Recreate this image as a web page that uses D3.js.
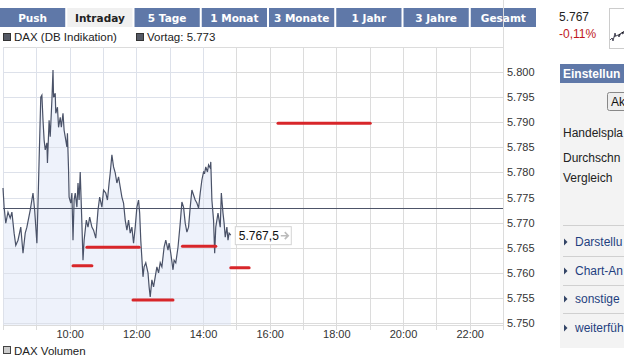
<!DOCTYPE html>
<html><head><meta charset="utf-8">
<script src="https://cdnjs.cloudflare.com/ajax/libs/d3/7.8.5/d3.min.js"></script>
<style>
html,body{margin:0;padding:0;background:#fff;}
svg{display:block;}
</style></head>
<body>
<svg id="c" width="624" height="358"></svg>
<script>
// ---- data ----
const tabs = ["Push","Intraday","5 Tage","1 Monat","3 Monate","1 Jahr","3 Jahre","Gesamt"];
const activeTab = "Intraday";
const times = ["08:00","08:02","08:05","08:09","08:13","08:16","08:20","08:23","08:27","08:32","08:36","08:40","08:43","08:49","08:54","08:57",
"09:01","09:03","09:05","09:08","09:10","09:12","09:14","09:16","09:19","09:20","09:23","09:25","09:28","09:30","09:31","09:34","09:35","09:38","09:40","09:43","09:45","09:48","09:50","09:52","09:55","09:56","09:58","09:59",
"10:02","10:04","10:06","10:08","10:10","10:13","10:15","10:17","10:19","10:22","10:24","10:26","10:30","10:33","10:36","10:40","10:43","10:47","10:51","10:54","10:58",
"11:01","11:05","11:08","11:11","11:13","11:16","11:19","11:22","11:25","11:28","11:31","11:34","11:37","11:40","11:43","11:46","11:49","11:52","11:55","11:58",
"12:01","12:04","12:06","12:08","12:12","12:14","12:17","12:21","12:23","12:25","12:28","12:31","12:34","12:37","12:40","12:43","12:46","12:50","12:53","12:57","12:59",
"13:02","13:06","13:08","13:11","13:15","13:19","13:22","13:25","13:28","13:31","13:34","13:37","13:40","13:43","13:46","13:49","13:52","13:55","13:58",
"14:01","14:03","14:05","14:08","14:10","14:13","14:14","14:16","14:19","14:21","14:23","14:27","14:31","14:33","14:36","14:38","14:40","14:43","14:45","14:47","14:50"];
const prices = [5776.9,5773.1,5769.9,5772.1,5770.9,5772.1,5767.9,5765.5,5766.5,5769.1,5763.9,5767.9,5769.1,5772.5,5775.9,5772.5,
5765.9,5773.9,5782.5,5795.0,5795.4,5790.4,5786.5,5784.5,5785.9,5781.9,5790.4,5787.1,5794.4,5800.4,5795.0,5795.8,5791.8,5793.0,5789.0,5791.0,5789.0,5791.8,5788.4,5787.1,5785.1,5787.8,5780.5,5775.1,
5773.9,5775.9,5766.5,5774.5,5775.9,5773.1,5777.9,5774.5,5780.1,5769.9,5762.5,5766.5,5770.5,5769.1,5771.1,5769.1,5768.5,5766.9,5772.5,5775.1,5773.1,
5776.5,5775.9,5774.5,5777.9,5779.9,5783.5,5781.1,5779.9,5777.9,5779.1,5777.1,5775.1,5773.9,5770.5,5768.5,5770.5,5767.9,5769.1,5765.9,5769.1,
5773.1,5774.5,5771.9,5766.5,5759.2,5761.2,5762.0,5760.0,5757.2,5755.2,5758.6,5757.2,5759.2,5761.2,5760.0,5762.0,5761.2,5765.1,5766.5,5764.5,5765.9,
5763.9,5760.6,5762.5,5762.0,5765.1,5769.9,5774.1,5773.1,5769.9,5768.1,5769.1,5773.1,5776.5,5775.5,5774.5,5773.9,5772.9,5775.9,5778.5,
5780.1,5779.9,5781.1,5780.1,5781.5,5780.9,5782.1,5774.5,5770.5,5763.9,5769.1,5771.9,5769.1,5775.9,5771.9,5769.9,5767.1,5769.1,5766.5,5767.9,5767.5];
const previousClose = 5773;
const lastPrice = 5767.5;
const quotePrice = 5767;
const changePct = -0.11;
// red marker segments: [from, to, level]
const markerFrom = ["10:06","10:31","11:54","13:23","14:50","16:15"];
const markerTo   = ["10:40","12:05","13:06","14:23","15:23","19:01"];
const markerLevel= [5761.4,5765.1,5754.6,5765.3,5761.0,5789.8];
const yTicks = [5750,5755,5760,5765,5770,5775,5780,5785,5790,5795,5800];
const xTickLabels = ["10:00","12:00","14:00","16:00","18:00","20:00","22:00"];
// side panel texts (as visible, cut by the window edge)
const sideHeader = "Einstellun";
const sideButton = "Ak";
const sideLabels = ["Handelspla","Durchschn","Vergleich"];
const sideLinks = ["Darstellu","Chart-An","sonstige","weiterfüh"];

// ---- setup ----
const de = d3.formatLocale({decimal:",",thousands:".",grouping:[3],currency:["","€"],minus:"-"});
const fmt0 = de.format(",.0f"), fmt1 = de.format(",.1f");
const parse = d3.timeParse("%H:%M");
const svg = d3.select("#c");
const L=3, R=503, T=47, B=325;
const x = d3.scaleTime().domain([parse("08:00"), parse("23:00")]).range([L,R]);
const y = d3.scaleLinear().domain([5749.6,5805]).range([B,T]);
const data = times.map((t,i)=>({t:parse(t), v:prices[i]}));

// tabs
const tabScale = d3.scaleBand().domain(tabs).range([0,536]).paddingInner(0.03);
const tg = svg.append("g");
tg.selectAll("rect").data(tabs).join("rect")
  .attr("x",d=>tabScale(d)).attr("y",8).attr("width",tabScale.bandwidth()).attr("height",19)
  .attr("fill",d=>d===activeTab?"#f0f0f0":"#5f78a8");
tg.selectAll("text").data(tabs).join("text")
  .attr("x",d=>tabScale(d)+tabScale.bandwidth()/2).attr("y",22).attr("text-anchor","middle")
  .attr("font-family","DejaVu Sans").attr("font-weight","bold").attr("font-size",10.5)
  .attr("fill",d=>d===activeTab?"#222":"#fff").text(d=>d);

// legend
const leg = svg.append("g").attr("font-family","Liberation Sans, Arial").attr("font-size",11.5).attr("fill","#222");
leg.append("rect").attr("x",3.5).attr("y",33.5).attr("width",7).attr("height",7).attr("fill","#555a66").attr("stroke","#333");
leg.append("text").attr("x",14).attr("y",41).text("DAX (DB Indikation)");
leg.append("rect").attr("x",136.5).attr("y",33.5).attr("width",7).attr("height",7).attr("fill","#555a66").attr("stroke","#333");
leg.append("text").attr("x",147).attr("y",41).text("Vortag: " + fmt0(previousClose));
leg.append("rect").attr("x",3.5).attr("y",346.5).attr("width",7).attr("height",7).attr("fill","#ccc").attr("stroke","#444");
leg.append("text").attr("x",14).attr("y",355).text("DAX Volumen");

// grid
const grid = svg.append("g").attr("stroke","#dcdcdc").attr("shape-rendering","crispEdges");
const hours = d3.timeHour.range(parse("08:00"), parse("23:00"), 1);
grid.selectAll("line.v").data(hours).join("line").attr("class","v")
  .attr("x1",d=>Math.round(x(d))+0.5).attr("x2",d=>Math.round(x(d))+0.5).attr("y1",T).attr("y2",B+5);
grid.selectAll("line.h").data(yTicks.concat([5805])).join("line").attr("class","h")
  .attr("x1",L).attr("x2",R+1).attr("y1",d=>Math.round(y(d))+0.5).attr("y2",d=>Math.round(y(d))+0.5);
grid.append("line").attr("x1",L).attr("x2",R+1).attr("y1",B+0.5).attr("y2",B+0.5);
grid.append("line").attr("x1",R+0.5).attr("x2",R+0.5).attr("y1",0).attr("y2",B+5);

// area + line
svg.append("path").datum(data).attr("fill","#eef2fb")
  .attr("d",d3.area().x(d=>x(d.t)).y0(B).y1(d=>y(d.v)));
svg.append("g").attr("stroke","#dde1ea").attr("shape-rendering","crispEdges")
  .selectAll("line").data(yTicks).join("line")
  .attr("x1",L).attr("x2",x(data[data.length-1].t)).attr("y1",d=>Math.round(y(d))+0.5).attr("y2",d=>Math.round(y(d))+0.5);
svg.append("g").attr("stroke","#dde1ea").attr("shape-rendering","crispEdges")
  .selectAll("line").data(hours.filter(h=>h<=data[data.length-1].t)).join("line")
  .attr("x1",d=>Math.round(x(d))+0.5).attr("x2",d=>Math.round(x(d))+0.5).attr("y1",T).attr("y2",B);
svg.append("line").attr("x1",L).attr("x2",R).attr("y1",Math.round(y(previousClose))+0.5).attr("y2",Math.round(y(previousClose))+0.5)
  .attr("stroke","#4d5468").attr("stroke-width",1);
svg.append("path").datum(data).attr("fill","none").attr("stroke","#4a5268").attr("stroke-width",1.2)
  .attr("d",d3.line().x(d=>x(d.t)).y(d=>y(d.v)));

// y axis labels
const ya = svg.append("g").attr("transform",`translate(${R},0)`)
  .call(d3.axisRight(y).tickValues(yTicks).tickFormat(fmt0).tickSize(0).tickPadding(4));
ya.select(".domain").remove();
ya.selectAll("text").attr("font-family","Liberation Sans, Arial").attr("font-size",11).attr("fill","#333");

// x axis labels
const xa = svg.append("g").attr("transform",`translate(0,${B})`)
  .call(d3.axisBottom(x).tickValues(xTickLabels.map(parse)).tickFormat(d3.timeFormat("%H:%M")).tickSize(0).tickPadding(5));
xa.select(".domain").remove();
xa.selectAll("text").attr("font-family","Liberation Sans, Arial").attr("font-size",11).attr("fill","#333");

// markers
svg.append("g").selectAll("line").data(markerLevel).join("line")
  .attr("x1",(d,i)=>x(parse(markerFrom[i]))).attr("x2",(d,i)=>x(parse(markerTo[i])))
  .attr("y1",d=>y(d)).attr("y2",d=>y(d))
  .attr("stroke","#d8262a").attr("stroke-width",3).attr("stroke-linecap","round");

// last value label
const lx = x(data[data.length-1].t)+4, ly = y(lastPrice);
const lb = svg.append("g");
lb.append("rect").attr("x",lx+0.5).attr("y",ly-8.5).attr("width",56).attr("height",18).attr("fill","#fff").attr("stroke","#d4d4d4");
lb.append("text").attr("x",lx+4).attr("y",ly+5).attr("font-family","Liberation Sans, Arial").attr("font-size",12).attr("fill","#111").text(fmt1(lastPrice));
lb.append("path").attr("d",`M${lx+46},${ly+0.5}h7M${lx+50},${ly-3}l3.5,3.5l-3.5,3.5`).attr("stroke","#bbb").attr("stroke-width",1.6).attr("fill","none");

// right panel
const side = svg.append("g").attr("font-family","Liberation Sans, Arial");
side.append("text").attr("x",559).attr("y",21).attr("font-size",12).attr("fill","#222").text(fmt0(quotePrice));
side.append("text").attr("x",559).attr("y",38).attr("font-size",12).attr("fill","#c0181c").text(de.format(".2f")(changePct)+"%");
side.append("rect").attr("x",609.5).attr("y",8.5).attr("width",18).attr("height",40).attr("fill","#fff").attr("stroke","#ccc");
side.append("path").attr("d","M610,40l2,-2l1,3l2,-8l1,3l2,-1l1,2l2,-4l2,1l1,-3").attr("stroke","#556","fill","none");
side.append("rect").attr("x",560).attr("y",83).attr("width",64).attr("height",265).attr("fill","#f3f3f3");
side.append("rect").attr("x",560).attr("y",64).attr("width",64).attr("height",19).attr("fill","#5f78a8");
side.append("text").attr("x",563).attr("y",78).attr("font-size",12).attr("font-weight","bold").attr("fill","#fff").text(sideHeader);
side.append("rect").attr("x",607.5).attr("y",92.5).attr("width",30).attr("height",18).attr("rx",2).attr("fill","#eee").attr("stroke","#888");
side.append("text").attr("x",611).attr("y",106).attr("font-size",12).attr("fill","#111").text(sideButton);
side.selectAll("text.lab").data(sideLabels).join("text").attr("class","lab")
  .attr("x",563).attr("y",(d,i)=>[137,162,182][i]).attr("font-size",12).attr("fill","#222").text(d=>d);
side.selectAll("line.sep").data([225,256,285,313]).join("line").attr("class","sep")
  .attr("x1",563).attr("x2",624).attr("y1",d=>d+0.5).attr("y2",d=>d+0.5).attr("stroke","#d0d0d0");
side.selectAll("path.tri").data(sideLinks).join("path").attr("class","tri")
  .attr("d",(d,i)=>{const yy=[242,271,299,328][i]; return `M564,${yy-3.5}l3.5,3.5l-3.5,3.5z`;}).attr("fill","#334466");
side.selectAll("text.link").data(sideLinks).join("text").attr("class","link")
  .attr("x",575).attr("y",(d,i)=>[246,275,303,332][i]).attr("font-size",12).attr("fill","#1f3f7f").text(d=>d);
</script>
</body></html>
